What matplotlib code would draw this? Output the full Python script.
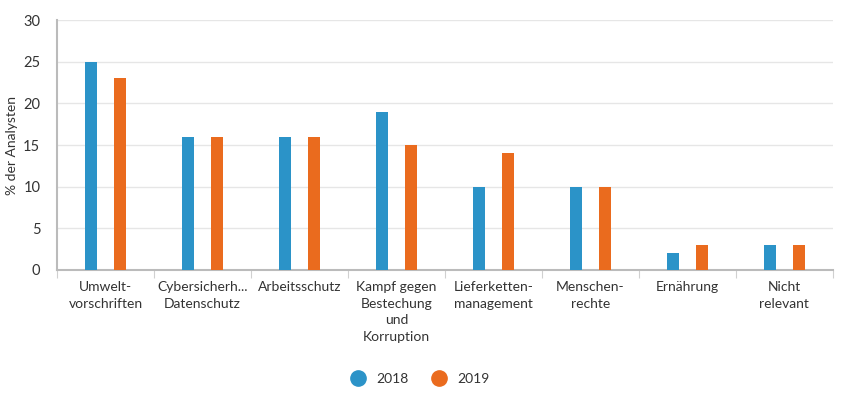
import numpy as np
import matplotlib
matplotlib.use("Agg")
from matplotlib import pyplot as plt
from matplotlib.lines import Line2D

categories = ["Umwelt-\nvorschriften", "Cybersicherh...\nDatenschutz", "Arbeitsschutz",
              "Kampf gegen\nBestechung\nund\nKorruption", "Lieferketten-\nmanagement",
              "Menschen-\nrechte", "Ernährung", "Nicht\nrelevant"]
v2018 = [25, 16, 16, 19, 10, 10, 2, 3]
v2019 = [23, 16, 16, 15, 14, 10, 3, 3]
yticks = [0, 5, 10, 15, 20, 25, 30]

BLUE = "#2b93c8"
ORANGE = "#ea6b1e"
TXT = "#333333"

plt.rcParams['font.family'] = ['Lato', 'DejaVu Sans']

fig = plt.figure(figsize=(8.47, 3.95), dpi=100)
ax = fig.add_axes([0.0673, 0.3165, 0.9157, 0.6325])

x = np.arange(len(categories))
w = 0.125
ax.bar(x - 0.15, v2018, w, color=BLUE, zorder=3)
ax.bar(x + 0.15, v2019, w, color=ORANGE, zorder=3)

ax.set_xlim(-0.5, len(categories) - 0.5)
ax.set_ylim(0, 30)
ax.set_yticks(yticks)
ax.yaxis.grid(True, color="#e6e6e6", linewidth=1, zorder=0)
ax.tick_params(axis="y", length=0, labelsize=10.5, colors=TXT, pad=12)

ax.set_xticks(x)
ax.set_xticklabels(categories, fontsize=10, color=TXT, linespacing=1.45, va="top")
ax.tick_params(axis="x", length=0, pad=8)
ax.set_xticks(np.arange(len(categories) + 1) - 0.5, minor=True)
ax.tick_params(axis="x", which="minor", length=6, color="#d0d0d0", width=0.8)

for s in ["top", "right"]:
    ax.spines[s].set_visible(False)
for s in ["left", "bottom"]:
    ax.spines[s].set_color("#bbbbbb")
    ax.spines[s].set_linewidth(1.5)

ax.set_ylabel("% der Analysten", fontsize=10, color=TXT, labelpad=4)

handles = [Line2D([], [], marker="o", linestyle="", markersize=11, color=BLUE),
           Line2D([], [], marker="o", linestyle="", markersize=11, color=ORANGE)]
fig.legend(handles, ["2018", "2019"], loc="center", bbox_to_anchor=(0.492, 0.04),
           ncol=2, frameon=False, fontsize=10, handletextpad=0.3, columnspacing=1.2,
           labelcolor=TXT)

fig.savefig("out.png", dpi=100)
